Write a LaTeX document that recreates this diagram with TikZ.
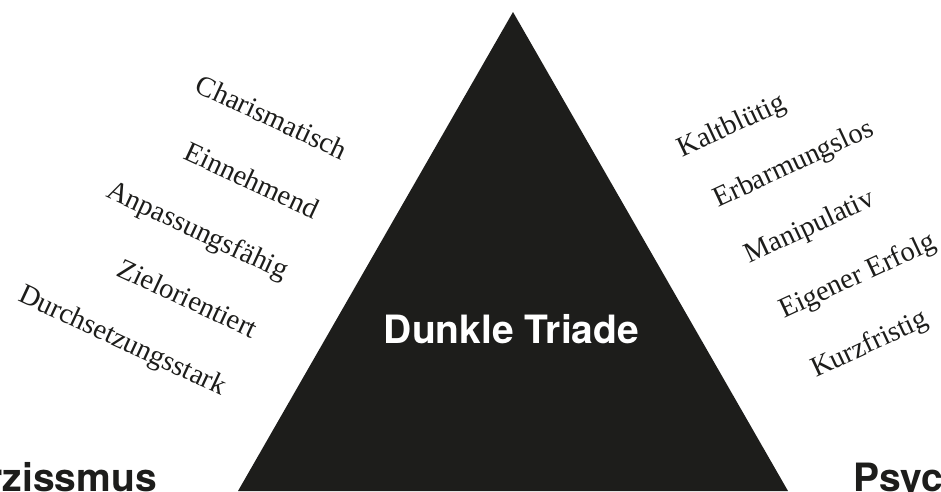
\documentclass[tikz,border=0pt]{standalone}
\usepackage{fontspec}
\setmainfont{Liberation Serif}
\newfontfamily\headfont{TeX Gyre Heros}
\definecolor{ink}{HTML}{1D1D1B}
\begin{document}
\begin{tikzpicture}[x=1pt,y=-1pt,
  trait/.style={text=ink,inner sep=0pt,font=\fontsize{28.5}{32}\selectfont},
  lefttrait/.style={trait,rotate=-25},
  righttrait/.style={trait,rotate=25},
  title/.style={text=white,inner sep=0pt,font=\headfont\bfseries\fontsize{39}{44}\selectfont},
  corner/.style={text=ink,inner sep=0pt,font=\headfont\bfseries\fontsize{39}{44}\selectfont}]
\useasboundingbox (0,0) rectangle (941,491);
\clip (0,0) rectangle (941,491);
\fill[white] (0,0) rectangle (941,491);
\coordinate (apex) at (513,12);
\coordinate (bl) at (238,491);
\coordinate (br) at (788,491);
\fill[ink] (apex) -- (bl) -- (br) -- cycle;
\node[title,anchor=base] (triade) at (511.5,343) {Dunkle Triade};
% left traits
\node[lefttrait] (charis) at (272,117) {Charismatisch};
\node[lefttrait] (einn) at (252,180) {Einnehmend};
\node[lefttrait] (anpass) at (197,232) {Anpassungsfähig};
\node[lefttrait] (ziel) at (188,298) {Zielorientiert};
\node[lefttrait] (durch) at (122,342) {Durchsetzungsstark};
% right traits
\node[righttrait] (kalt) at (732,127) {Kaltblütig};
\node[righttrait] (erbarm) at (794,165) {Erbarmungslos};
\node[righttrait] (manip) at (810,228) {Manipulativ};
\node[righttrait] (erfolg) at (858,277) {Eigener Erfolg};
\node[righttrait] (kurz) at (870,345) {Kurzfristig};
% corner labels
\node[corner,anchor=base east] (narz) at (157,491) {Narzissmus};
\node[corner,anchor=base west] (psych) at (853,491) {Psychopathie};
\end{tikzpicture}
\end{document}
